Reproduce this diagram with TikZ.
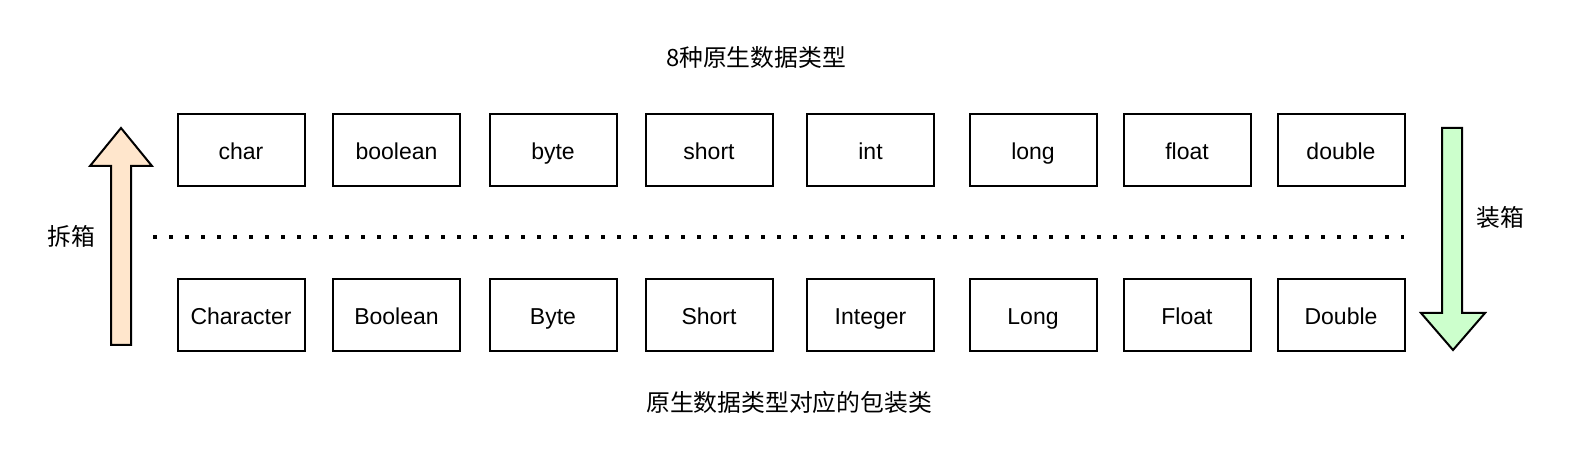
\documentclass[tikz,border=0pt]{standalone}
\usepackage{fontspec}
\setmainfont{Liberation Sans}
\newfontfamily\cjk{Noto Sans CJK SC}
\begin{document}
\begin{tikzpicture}[x=1pt, y=-1pt, line join=miter,
  typebox/.style={draw, line width=2pt, minimum width=127pt, minimum height=72pt,
    inner sep=0pt, text height=20pt, text depth=0pt, font=\fontsize{23}{27}\selectfont},
  cjklabel/.style={inner sep=0pt, font=\cjk\fontsize{23.8}{28}\selectfont},
  blockarrow/.style={draw, line width=2pt}]
\path[use as bounding box] (0,0) rectangle (1572,470);

% primitive types
\node[typebox] (char)    at (241,150)  {char};
\node[typebox] (boolean) at (396.5,150) {boolean};
\node[typebox] (byte)    at (553,150)  {byte};
\node[typebox] (short)   at (709,150)  {short};
\node[typebox] (int)     at (870.5,150) {int};
\node[typebox] (long)    at (1033,150) {long};
\node[typebox] (float)   at (1187,150) {float};
\node[typebox] (double)  at (1341,150) {double};

% wrapper classes
\node[typebox] (Character) at (241,315)  {Character};
\node[typebox] (Boolean)   at (396.5,315) {Boolean};
\node[typebox] (Byte)      at (553,315)  {Byte};
\node[typebox] (Short)     at (709,315)  {Short};
\node[typebox] (Integer)   at (870.5,315) {Integer};
\node[typebox] (Long)      at (1033,315) {Long};
\node[typebox] (Float)     at (1187,315) {Float};
\node[typebox] (Double)    at (1341,315) {Double};

\node[cjklabel] (title)  at (756,57)  {8种原生数据类型};
\node[cjklabel] (footer) at (789,402) {原生数据类型对应的包装类};
\node[cjklabel] (unbox)  at (71,236)  {拆箱};
\node[cjklabel] (box)    at (1500,217) {装箱};

% separator
\coordinate (sepL) at (153,237);
\coordinate (sepR) at (1404,237);
\draw[line width=3.5pt, dash pattern=on 3.5pt off 12.5pt] (sepL) -- (sepR);

% unboxing arrow
\path[blockarrow, fill={rgb,255:red,255;green,230;blue,204}]
  (111,345) -- (111,166) -- (90,166) -- (121,128) -- (152,166)
  -- (131,166) -- (131,345) -- cycle;

% boxing arrow
\path[blockarrow, fill={rgb,255:red,204;green,255;blue,204}]
  (1442,128) -- (1462,128) -- (1462,313) -- (1485,313) -- (1453,350)
  -- (1421,313) -- (1442,313) -- cycle;
\end{tikzpicture}
\end{document}
